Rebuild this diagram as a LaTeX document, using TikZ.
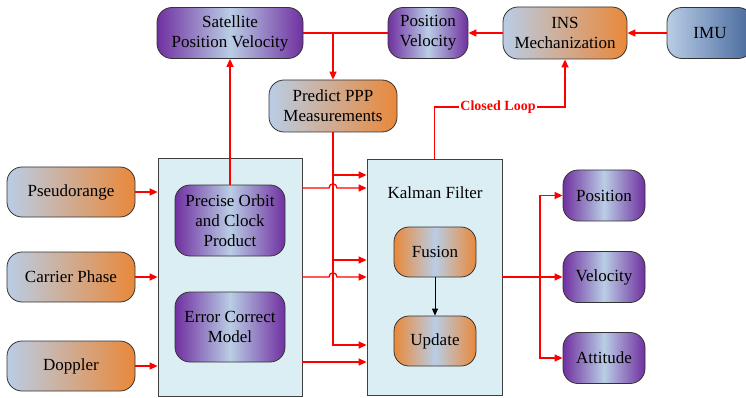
\documentclass[tikz,border=0pt]{standalone}
\usepackage{fontspec}
\setmainfont{Liberation Serif}
\usetikzlibrary{arrows.meta}
\definecolor{lblue}{HTML}{B9CDE5}
\definecolor{orng}{HTML}{E9883A}
\definecolor{purp}{HTML}{7030A0}
\definecolor{dblue}{HTML}{46679C}
\definecolor{boxfill}{HTML}{DAEEF3}
\definecolor{lnred}{RGB}{255,0,0}
\begin{document}
\begin{tikzpicture}[x=1pt,y=-1pt,
 every node/.style={font=\fontsize{17}{20}\selectfont},
 rbox/.style={draw=black!80, line width=0.8pt, rounded corners=15pt, align=center, inner sep=0pt},
 bo/.style={rbox, left color=lblue, right color=orng},
 pu/.style={rbox, left color=purp, right color=purp, middle color=lblue},
 og/.style={rbox, left color=orng, right color=orng, middle color=lblue},
 bigbox/.style={draw=black!75, line width=0.8pt, fill=boxfill, inner sep=0pt},
 conn/.style={draw=lnred, line width=1.3pt},
 arr/.style={draw=lnred, line width=1.3pt, -{Triangle[length=8pt,width=7pt]}},
]
\useasboundingbox (0,0) rectangle (746,398);

% coordinates for levels
\coordinate (y107) at (0,107);
\coordinate (y175) at (0,175);
\coordinate (y188) at (0,188);
\coordinate (y260) at (0,260);
\coordinate (y277) at (0,277);
\coordinate (y345) at (0,345);
\coordinate (y362) at (0,362);

% top row
\node[pu, minimum width=146pt, minimum height=51pt] (sat) at (230,33) {Satellite\\Position Velocity};
\node[pu, minimum width=80pt, minimum height=51pt] (pv) at (428,33) {Position\\Velocity};
\node[bo, minimum width=124pt, minimum height=52pt] (ins) at (565,33) {INS\\Mechanization};
\node[rbox, left color=lblue, right color=dblue, minimum width=86pt, minimum height=51pt] (imu) at (710,33) {IMU};
\node[bo, minimum width=128pt, minimum height=52pt] (pred) at (333,106) {Predict PPP\\Measurements};

% inputs
\node[bo, minimum width=128pt, minimum height=50pt] (psr) at (71,192) {Pseudorange};
\node[bo, minimum width=128pt, minimum height=50pt] (cp) at (71,277) {Carrier Phase};
\node[bo, minimum width=128pt, minimum height=50pt] (dop) at (71,366) {Doppler};

% box 1
\node[bigbox, minimum width=144pt, minimum height=238pt] (b1) at (230,277) {};
\node[pu, minimum width=110pt, minimum height=71pt] (prec) at (230,220.5) {Precise Orbit\\and Clock\\Product};
\node[pu, minimum width=110pt, minimum height=70pt] (err) at (230,327) {Error Correct\\Model};

% Kalman box
\node[bigbox, minimum width=135pt, minimum height=236pt] (kal) at (434.5,277) {};
\node (kallab) at (435,193) {Kalman Filter};
\node[og, minimum width=82pt, minimum height=50pt] (fus) at (435,252) {Fusion};
\node[og, minimum width=82pt, minimum height=50pt] (upd) at (435,341) {Update};

% outputs
\node[pu, minimum width=82pt, minimum height=51pt] (pos) at (604,195.5) {Position};
\node[pu, minimum width=82pt, minimum height=51pt] (vel) at (604,277) {Velocity};
\node[pu, minimum width=82pt, minimum height=51pt] (att) at (604,358) {Attitude};

% top connectors
\coordinate (j1) at (pred.north |- sat.east);
\draw[conn] (sat.east) -- (pv.west);
\draw[arr] (j1) -- (pred.north);
\draw[arr] (ins.west) -- (pv.east);
\draw[arr] (imu.west) -- (ins.east);
\draw[arr] (prec.north) -- (sat.south);

% closed loop
\draw[arr] (kal.north) -- (kal.north |- y107) -- (ins.south |- y107) -- (ins.south);
\node[fill=white, inner sep=1pt, text=lnred, font=\bfseries\fontsize{14}{16}\selectfont] (cl) at (498,107) {Closed Loop};

% inputs to box 1
\draw[arr] (psr.east) -- (psr.east -| b1.west);
\draw[arr] (cp.east) -- (cp.east -| b1.west);
\draw[arr] (dop.east) -- (dop.east -| b1.west);

% predict vertical and branches
\draw[arr] (pred.south) -- (pred.south |- y345) -- (kal.west |- y345);
\draw[arr] (pred.south |- y175) -- (kal.west |- y175);
\draw[arr] (pred.south |- y260) -- (kal.west |- y260);

% box1 outputs with hops
\draw[arr] (b1.east |- y188) -- (329,188) .. controls (329,182.5) and (337,182.5) .. (337,188) -- (kal.west |- y188);
\draw[arr] (b1.east |- y277) -- (329,277) .. controls (329,271.5) and (337,271.5) .. (337,277) -- (kal.west |- y277);
\draw[arr] (b1.east |- y362) -- (kal.west |- y362);

% kalman internal
\draw[black, line width=0.8pt, -{Triangle[length=7pt,width=6pt]}] (fus.south) -- (upd.north);

% outputs
\coordinate (split) at (540,277);
\draw[arr] (kal.east) -- (split) -- (vel.west);
\draw[arr] (split) |- (pos.west);
\draw[arr] (split) |- (att.west);
\end{tikzpicture}
\end{document}
